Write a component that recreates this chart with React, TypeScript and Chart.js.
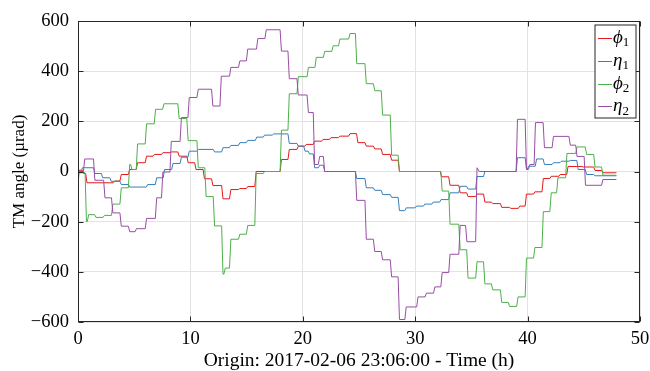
import React, { useEffect, useRef } from "react";
import { Chart, registerables } from "chart.js";

Chart.register(...registerables);

const FONT = "'Liberation Serif', 'DejaVu Serif', serif";

const xTicks = [0, 10, 20, 30, 40, 50];
const yTicks = [-600, -400, -200, 0, 200, 400, 600];
const endTime = 47.9;

const seriesNames = ["\u03d5", "\u03b7", "\u03d5", "\u03b7"];
const seriesSubs = ["1", "1", "2", "2"];
const seriesColors = ["#e41a1c", "#377eb8", "#4daf4a", "#984ea3"];

const phi1Times = [0, 0.1, 0.5, 0.8, 3.25, 3.85, 4.6, 5.3, 6.1, 6.8, 7.55, 8.3, 9.0, 9.8, 10.5, 11.25, 12.0, 12.9, 13.6, 14.4, 15.1, 15.85, 18.1, 18.8, 19.6, 20.3, 21.05, 21.8, 22.5, 23.3, 24.2, 24.9, 25.65, 26.4, 27.1, 27.9, 28.6, 32.35, 33.1, 34.0, 34.7, 35.5, 36.2, 36.9, 37.7, 38.5, 39.3, 39.9, 40.65, 41.4, 42.1, 42.9, 43.6, 44.95, 46.0, 46.7];
const phi1Values = [-60, 5, -8, -45, -38, -12, 8, 35, 61, 68, 75, 78, 61, 35, 8, -29, -56, -109, -72, -68, -60, 0, 48, 88, 101, 108, 121, 128, 135, 141, 151, 115, 101, 90, 68, 45, 0, -21, -55, -85, -100, -90, -122, -128, -143, -147, -138, -90, -81, -28, -19, -12, 20, 18, 4, -5];

const eta1Times = [0, 0.4, 1.5, 2.2, 2.95, 3.85, 4.6, 6.2, 7.0, 7.7, 8.45, 9.2, 9.9, 10.7, 12.15, 12.9, 13.6, 14.4, 15.1, 15.9, 16.6, 17.4, 18.8, 19.6, 20.2, 20.6, 21.05, 21.5, 21.95, 24.8, 25.65, 26.4, 27.1, 27.9, 28.6, 29.2, 30.1, 30.85, 31.6, 32.3, 33.1, 34.0, 34.7, 35.5, 36.2, 39.1, 39.9, 40.1, 40.8, 41.5, 42.3, 43.0, 43.8, 44.5, 45.25, 46.0];
const eta1Values = [0, 15, -8, -25, -39, -52, -62, -52, -25, 8, 32, 57, 81, 88, 78, 95, 104, 115, 124, 137, 145, 150, 112, 101, 81, 70, 15, 25, 0, -28, -65, -75, -92, -103, -156, -145, -138, -130, -122, -112, -85, -59, -70, -20, 0, 55, 10, 21, 50, 28, 35, 41, 44, 8, -12, -17];

const phi2Times = [0, 0.75, 0.95, 1.6, 2.35, 3.1, 3.85, 4.6, 4.8, 5.3, 6.1, 6.9, 7.65, 9.0, 9.8, 10.7, 11.4, 12.15, 12.9, 13.1, 13.6, 14.4, 15.1, 15.85, 16.6, 18.1, 18.8, 19.6, 20.5, 21.2, 21.95, 22.7, 23.3, 24.2, 24.8, 25.65, 26.4, 27.1, 27.9, 28.6, 32.4, 33.1, 34.0, 34.7, 35.5, 36.2, 36.9, 37.7, 38.4, 39.15, 39.9, 40.65, 41.4, 42.1, 42.7, 43.5, 44.4, 45.25, 46.0, 46.7];
const phi2Values = [-5, -199, -172, -183, -175, -130, -65, 28, 8, 110, 190, 248, 270, 211, 123, 15, -100, -217, -409, -385, -270, -250, -215, -8, 0, 165, 310, 378, 415, 455, 479, 501, 528, 550, 430, 350, 322, 225, 65, 0, -78, -210, -312, -425, -360, -448, -472, -522, -538, -500, -345, -303, -160, -85, -25, 72, 98, 68, 18, -15];

const eta2Times = [0, 0.6, 1.5, 2.4, 3.1, 3.85, 4.6, 5.2, 6.1, 7.0, 7.55, 8.3, 9.2, 9.9, 10.7, 12.0, 12.75, 13.6, 14.4, 15.1, 16.0, 16.75, 18.1, 18.8, 19.6, 20.5, 21.05, 21.5, 21.95, 24.8, 25.65, 26.4, 27.1, 27.9, 28.6, 29.2, 30.25, 31.0, 31.75, 32.4, 33.1, 34.0, 34.6, 35.5, 35.7, 39.1, 39.9, 40.2, 40.7, 41.5, 42.3, 43.8, 44.4, 45.15, 46.7];
const eta2Values = [0, 50, -35, -105, -165, -218, -240, -228, -187, -105, -2, 120, 215, 295, 328, 261, 380, 415, 441, 488, 530, 565, 480, 370, 305, 235, 28, 60, 0, -115, -270, -319, -352, -420, -590, -540, -500, -485, -460, -403, -330, -215, -280, 15, 0, 208, 8, 28, 195, 95, 140, 105, 60, -55, -32];

const seriesTimes = [phi1Times, eta1Times, phi2Times, eta2Times];
const seriesValues = [phi1Values, eta1Values, phi2Values, eta2Values];

function stepPoints(times: number[], values: number[]) {
  const pts: { x: number; y: number }[] = [];
  const n = Math.min(times.length, values.length);
  for (let i = 0; i < n; i++) {
    const next = i + 1 < n ? times[i + 1] - 0.12 : endTime;
    pts.push({ x: times[i], y: values[i] });
    pts.push({ x: Math.max(next, times[i]), y: values[i] });
  }
  return pts;
}

const fmt = (v: number) => (v < 0 ? "\u2212" + Math.abs(v) : String(v));

const framePlugin = {
  id: "frameAndLegend",
  afterDraw(chart: any) {
    const { ctx, chartArea, scales } = chart;
    const L = Math.round(chartArea.left) + 0.5;
    const R = Math.round(chartArea.right) - 0.5;
    const T = Math.round(chartArea.top) + 0.5;
    const B = Math.round(chartArea.bottom) - 0.5;
    ctx.save();
    ctx.strokeStyle = "#262626";
    ctx.lineWidth = 1;
    ctx.strokeRect(L, T, R - L, B - T);
    ctx.beginPath();
    for (const v of xTicks) {
      const px = Math.round(scales.x.getPixelForValue(v)) + 0.5;
      ctx.moveTo(px, B);
      ctx.lineTo(px, B - 5);
      ctx.moveTo(px, T);
      ctx.lineTo(px, T + 5);
    }
    for (const v of yTicks) {
      const py = Math.round(scales.y.getPixelForValue(v)) + 0.5;
      ctx.moveTo(L, py);
      ctx.lineTo(L + 5, py);
      ctx.moveTo(R, py);
      ctx.lineTo(R - 5, py);
    }
    ctx.stroke();

    // legend
    const bx = R - 44.5;
    const by = T + 3.5;
    const bw = 41;
    const bh = 93;
    ctx.fillStyle = "#ffffff";
    ctx.fillRect(bx, by, bw, bh);
    ctx.strokeStyle = "#262626";
    ctx.strokeRect(bx, by, bw, bh);
    for (let i = 0; i < seriesNames.length; i++) {
      const cy = by + 13 + i * 22.8;
      ctx.strokeStyle = seriesColors[i];
      ctx.lineWidth = 1;
      ctx.beginPath();
      ctx.moveTo(bx + 3, Math.round(cy) + 0.5);
      ctx.lineTo(bx + 17, Math.round(cy) + 0.5);
      ctx.stroke();
      ctx.fillStyle = "#000000";
      ctx.textBaseline = "middle";
      ctx.textAlign = "left";
      ctx.font = "italic 19px " + FONT;
      ctx.fillText(seriesNames[i], bx + 18, cy);
      const w = ctx.measureText(seriesNames[i]).width;
      ctx.font = "13px " + FONT;
      ctx.fillText(seriesSubs[i], bx + 18 + w, cy + 5);
    }
    ctx.restore();
  },
};

export default function App() {
  const ref = useRef<HTMLCanvasElement>(null);
  useEffect(() => {
    document.body.style.margin = "0";
    const datasets = seriesTimes.map((t, i) => ({
      label: seriesNames[i] + seriesSubs[i],
      data: stepPoints(t, seriesValues[i]),
      borderColor: seriesColors[i],
      backgroundColor: seriesColors[i],
      borderWidth: 1,
      pointRadius: 0,
      tension: 0,
      fill: false,
      order: 3 - i,
    }));
    const chart = new Chart(ref.current!, {
      type: "line",
      data: { datasets },
      options: {
        animation: false,
        responsive: false,
        layout: { padding: { top: 21, right: 10, left: 0, bottom: 0 } },
        plugins: { legend: { display: false }, tooltip: { enabled: false } },
        scales: {
          x: {
            type: "linear",
            min: 0,
            max: 50,
            afterBuildTicks: (s: any) => {
              s.ticks = xTicks.map((v) => ({ value: v }));
            },
            afterFit: (s: any) => {
              s.height = 49;
              s.paddingLeft = 0;
              s.paddingRight = 0;
            },
            ticks: {
              font: { family: FONT, size: 18.5 },
              color: "#000",
              padding: 6,
              maxRotation: 0,
              callback: (v: any) => fmt(Number(v)),
            },
            grid: { color: "#e3e3e3", drawTicks: false, lineWidth: 1 },
            border: { display: false },
            title: {
              display: true,
              text: "Origin: 2017-02-06 23:06:00 - Time (h)",
              font: { family: FONT, size: 19.5, lineHeight: 1.0 },
              color: "#000",
              padding: { top: 0, bottom: 0 },
            },
          },
          y: {
            type: "linear",
            min: -600,
            max: 600,
            afterBuildTicks: (s: any) => {
              s.ticks = yTicks.map((v) => ({ value: v }));
            },
            afterFit: (s: any) => {
              s.width = 78;
              s.paddingTop = 0;
              s.paddingBottom = 0;
            },
            ticks: {
              font: { family: FONT, size: 18.5 },
              color: "#000",
              padding: 9,
              callback: (v: any) => fmt(Number(v)),
            },
            grid: { color: "#e3e3e3", drawTicks: false, lineWidth: 1 },
            border: { display: false },
            title: {
              display: true,
              text: "TM angle (\u00b5rad)",
              font: { family: FONT, size: 17 },
              color: "#000",
              padding: { top: 9, bottom: 0 },
            },
          },
        },
      },
      plugins: [framePlugin],
    } as any);
    return () => chart.destroy();
  }, []);
  return (
    <div style={{ width: 650, height: 371 }}>
      <canvas ref={ref} width={650} height={371} style={{ width: 650, height: 371, display: "block" }} />
    </div>
  );
}
